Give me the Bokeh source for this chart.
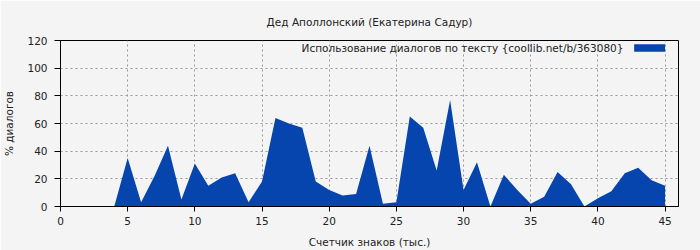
from bokeh.plotting import figure
from bokeh.embed import file_html
from bokeh.resources import INLINE
from bokeh.models import Label, BoxAnnotation, Title, FixedTicker, Range1d

# Data
chars_k = list(range(0, 46))
dialog_pct = [0, 0, 0, 0, 0, 35, 3, 22, 44, 5,
              31, 15, 21, 24, 3, 18, 64, 60, 57, 18,
              12, 8, 9, 44, 2, 3, 65, 57, 26, 77,
              12, 32, 0, 23, 12, 2, 7, 25, 16, 0,
              6, 11, 24, 28, 19, 15]
x_ticks = [0, 5, 10, 15, 20, 25, 30, 35, 40, 45]
y_ticks = [0, 20, 40, 60, 80, 100, 120]
title_text = "Дед Аполлонский (Екатерина Садур)"
legend_text = "Использование диалогов по тексту {coollib.net/b/363080}"
x_label = "Счетчик знаков (тыс.)"
y_label = "% диалогов"

FONT = "DejaVu Sans"
BLUE = "#0645AD"
BG = "#F4F4F4"
FS = "10.5px"

p = figure(width=700, height=250, output_backend="svg", toolbar_location=None,
           x_range=Range1d(0, 46), y_range=Range1d(0, 120),
           min_border_left=60, min_border_right=22, min_border_top=40,
           min_border_bottom=44)
p.background_fill_color = BG
p.border_fill_color = BG
p.outline_line_color = "black"
p.outline_line_width = 1

t = Title(text=title_text, align="center", text_font=FONT, text_font_size=FS,
          text_font_style="normal", text_color="#222222", standoff=25)
p.add_layout(t, "above")

p.varea(x=chars_k, y1=0, y2=dialog_pct, fill_color=BLUE)

for ax in (p.xaxis, p.yaxis):
    ax.major_label_text_font = FONT
    ax.major_label_text_font_size = FS
    ax.major_label_text_color = "#222222"
    ax.axis_label_text_font = FONT
    ax.axis_label_text_font_size = FS
    ax.axis_label_text_font_style = "normal"
    ax.axis_label_text_color = "#222222"
    ax.axis_line_color = "black"
    ax.major_tick_line_color = "black"
    ax.major_tick_out = 5
    ax.major_tick_in = 0
    ax.minor_tick_line_color = None

p.yaxis.major_tick_out = 6
p.yaxis.major_label_standoff = 7
p.xaxis.ticker = FixedTicker(ticks=x_ticks)
p.yaxis.ticker = FixedTicker(ticks=y_ticks)
p.xaxis.axis_label = x_label
p.yaxis.axis_label = y_label
p.xaxis.axis_label_standoff = 8
p.yaxis.axis_label_standoff = 9

p.grid.grid_line_color = "#999999"
p.grid.grid_line_dash = "2 3"
p.grid.grid_line_width = 1

# legend (text + swatch on the right)
p.add_layout(Label(x=41.9, y=114.6, text=legend_text, text_align="right",
                   text_baseline="middle", text_font=FONT,
                   text_font_size=FS, text_color="#222222"))
p.add_layout(BoxAnnotation(left=42.7, right=45.0, bottom=111.8, top=117.2,
                           fill_color=BLUE, fill_alpha=1.0, line_color=None))

open("out.html", "w").write(file_html(p, INLINE))
